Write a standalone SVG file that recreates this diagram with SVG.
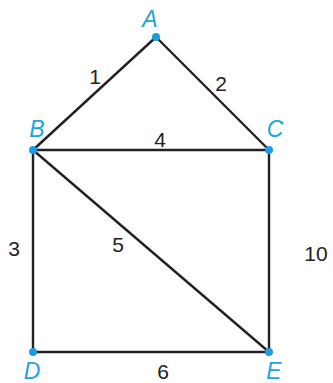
<svg xmlns="http://www.w3.org/2000/svg" width="333" height="383" viewBox="0 0 333 383">
<style>
.e{stroke:#222;stroke-width:2.4;fill:none;stroke-linecap:round}
.dot{fill:#1b9ce0}
.lbl{font-family:"Liberation Sans",Arial,sans-serif;font-size:23px;font-style:italic;fill:#22a4dc;text-anchor:middle}
.num{font-family:"Liberation Sans",Arial,sans-serif;font-size:21px;fill:#222;text-anchor:middle}
</style>
<rect width="333" height="383" fill="#fff"/>
<g id="edges">
<line class="e" x1="156" y1="37" x2="33" y2="150"/>
<line class="e" x1="156" y1="37" x2="269" y2="150"/>
<line class="e" x1="33" y1="150" x2="269" y2="150"/>
<line class="e" x1="33" y1="150" x2="33" y2="352"/>
<line class="e" x1="33" y1="150" x2="269" y2="352"/>
<line class="e" x1="269" y1="150" x2="269" y2="352"/>
<line class="e" x1="33" y1="352" x2="269" y2="352"/>
<text class="num" x="95" y="84">1</text>
<text class="num" x="221" y="91">2</text>
<text class="num" x="160" y="147">4</text>
<text class="num" x="14" y="256">3</text>
<text class="num" x="118" y="252">5</text>
<text class="num" x="316" y="261">10</text>
<text class="num" x="163" y="379">6</text>
</g>
<g id="A"><circle class="dot" cx="156" cy="37" r="4"/><text class="lbl" x="150" y="27">A</text></g>
<g id="B"><circle class="dot" cx="33" cy="150" r="4"/><text class="lbl" x="37" y="137">B</text></g>
<g id="C"><circle class="dot" cx="269" cy="150" r="4"/><text class="lbl" x="275" y="137">C</text></g>
<g id="D"><circle class="dot" cx="33" cy="352" r="4"/><text class="lbl" x="32" y="379">D</text></g>
<g id="E"><circle class="dot" cx="269" cy="352" r="4"/><text class="lbl" x="274" y="379">E</text></g>
</svg>
